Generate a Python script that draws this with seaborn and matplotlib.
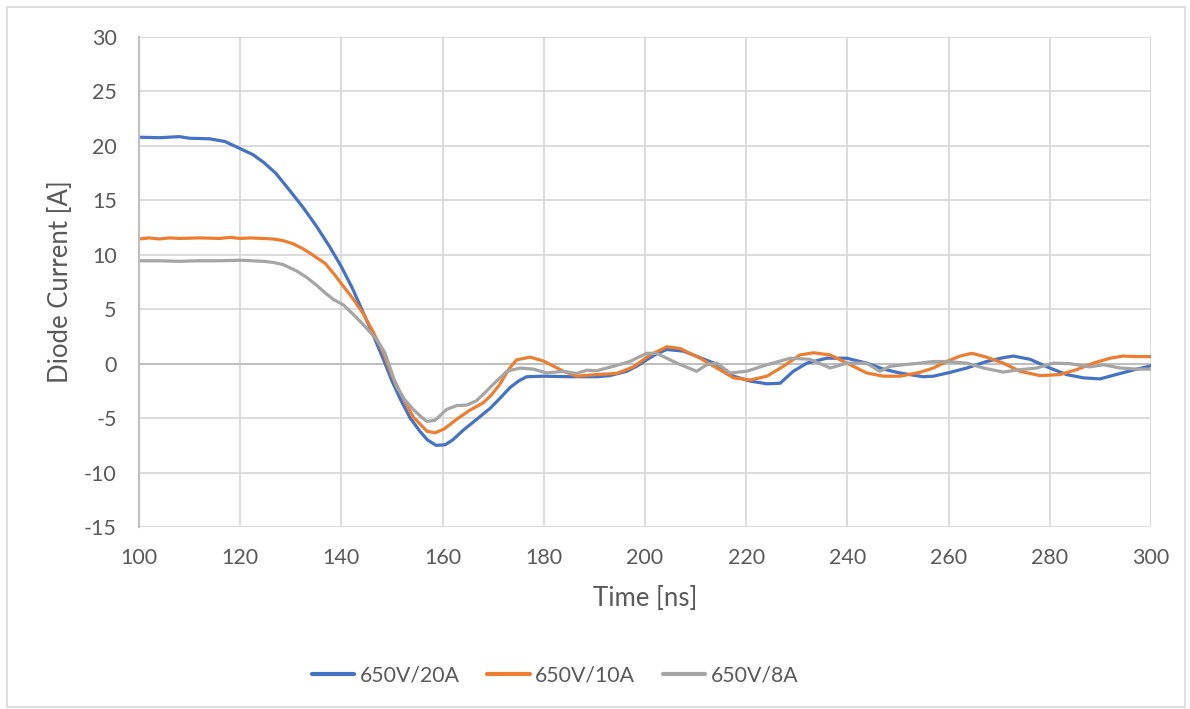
import pandas as pd
import numpy as np
import matplotlib.pyplot as plt
import seaborn as sns
from matplotlib.patches import Rectangle

# valeurs
t_20a = [100, 104, 108, 110, 114, 117, 120, 122.5, 124.6, 127, 129.8, 132.5, 135.1, 137.6, 140,
         142.2, 144.3, 146.3, 148.3, 150, 151.8, 153.6, 155.5, 157, 158.7, 160.5, 162, 164.1,
         166.5, 169.4, 171.5, 173.3, 175, 176.6, 180, 185, 190.4, 193, 196.4, 198.5, 200.3,
         202.3, 204.3, 207.6, 210.9, 214.2, 217.5, 220.8, 224.1, 226.7, 229.3, 232, 235.9,
         239.9, 243.8, 247.1, 250.4, 255, 257, 260.3, 263.6, 267.5, 270.8, 272.8, 276.1, 280,
         283.3, 286.6, 289.9, 293.9, 297.2, 300]
i_20a = [20.8, 20.75, 20.85, 20.7, 20.65, 20.4, 19.75, 19.2, 18.5, 17.5, 15.9, 14.3, 12.6, 10.8, 8.9,
         6.9, 4.7, 2.6, 0.4, -1.6, -3.4, -5.0, -6.2, -7.0, -7.5, -7.45, -7.0, -6.1,
         -5.2, -4.1, -3.1, -2.2, -1.6, -1.2, -1.15, -1.2, -1.2, -1.1, -0.7, -0.2, 0.35,
         0.9, 1.3, 1.15, 0.55, -0.05, -1.15, -1.6, -1.85, -1.8, -0.7, 0.05, 0.5,
         0.5, 0.05, -0.5, -0.86, -1.2, -1.15, -0.8, -0.4, 0.2, 0.55, 0.7, 0.4, -0.4,
         -1.0, -1.3, -1.4, -0.9, -0.5, -0.2]

t_10a = [100, 102, 104, 106, 108, 112, 116, 118, 120, 122, 126.5, 128.5, 130.5, 132.2, 133.8,
         136.8, 138.6, 140.4, 142.4, 144.3, 146.3, 148.3, 150, 151.8, 154.2, 156.9, 158.5,
         160.3, 162.8, 165.3, 168, 169.6, 171.3, 173.1, 174.6, 177.3, 179.9, 183.9, 186.5,
         190.4, 194.4, 197.7, 201, 204.3, 206.9, 210.9, 214.2, 217.5, 220.8, 224.1, 227.3,
         230.6, 233.3, 236.6, 239.9, 243.8, 247.1, 250.4, 254.3, 257, 259.6, 262.3, 264.6,
         267.5, 270.8, 274.1, 278.1, 282, 285.3, 288.6, 291.9, 294.5, 297, 300]
i_10a = [11.45, 11.55, 11.45, 11.55, 11.5, 11.55, 11.5, 11.6, 11.5, 11.55, 11.45, 11.3, 11.0, 10.6, 10.15,
         9.2, 8.2, 7.1, 5.9, 4.6, 2.9, 1.0, -1.1, -2.8, -4.9, -6.2, -6.35,
         -6.0, -5.1, -4.3, -3.6, -2.9, -1.9, -0.5, 0.35, 0.6, 0.25, -0.7, -1.15,
         -1.0, -0.9, -0.3, 0.8, 1.55, 1.4, 0.5, -0.4, -1.3, -1.5, -1.15, -0.25,
         0.8, 1.0, 0.8, 0.05, -0.85, -1.15, -1.15, -0.8, -0.4, 0.2, 0.7, 0.95,
         0.6, 0.05, -0.7, -1.1, -1.0, -0.55, 0.05, 0.5, 0.7, 0.65, 0.65]

t_8a = [100, 104, 108, 112, 116, 120, 124.6, 126.5, 128.5, 131.2, 133.2, 135.1, 136.8, 138.4,
        140.4, 142.4, 144.3, 147, 148.6, 150.9, 152.5, 154.2, 155.8, 156.9, 158.5, 160.8,
        162.8, 164.8, 166.7, 168.3, 170, 172.7, 175.3, 177.9, 180.6, 183.9, 186.5, 188.5,
        190.4, 193.7, 197, 200.3, 202.3, 206.3, 210.2, 212.2, 214.2, 216.8, 220.1, 224.1,
        228.7, 232.6, 236.6, 239.9, 243.8, 246.4, 248.4, 251, 254.3, 257, 259.6, 263.6,
        266.9, 270.8, 274.1, 277.4, 280.7, 284, 287.9, 290.6, 293.9, 297.2, 300]
i_8a = [9.45, 9.45, 9.4, 9.45, 9.45, 9.5, 9.4, 9.3, 9.1, 8.5, 7.9, 7.2, 6.5, 5.9,
        5.4, 4.5, 3.6, 2.2, 1.0, -2.1, -3.3, -4.2, -4.9, -5.3, -5.2, -4.2,
        -3.85, -3.8, -3.4, -2.7, -1.9, -0.7, -0.4, -0.5, -0.85, -0.7, -0.9, -0.6,
        -0.65, -0.25, 0.2, 0.95, 0.95, 0.05, -0.7, -0.1, 0.05, -0.85, -0.7, -0.1,
        0.5, 0.4, -0.4, 0.05, 0.05, -0.7, -0.25, -0.1, 0.05, 0.2, 0.2, 0.05,
        -0.4, -0.77, -0.55, -0.4, 0.05, 0.0, -0.3, -0.1, -0.4, -0.5, -0.5]

series = ['650V/20A', '650V/10A', '650V/8A']
couleurs = ['#4472C4', '#ED7D31', '#A5A5A5']
x_ticks = list(range(100, 301, 20))
y_ticks = list(range(-15, 31, 5))

# mise en forme longue pour seaborn
df = pd.concat([
    pd.DataFrame({'Time': t_20a, 'Current': i_20a, 'Serie': series[0]}),
    pd.DataFrame({'Time': t_10a, 'Current': i_10a, 'Serie': series[1]}),
    pd.DataFrame({'Time': t_8a, 'Current': i_8a, 'Serie': series[2]}),
], ignore_index=True)

sns.set_style('white')
plt.rcParams['font.family'] = ['Lato', 'DejaVu Sans']
plt.rcParams['axes.unicode_minus'] = False

fig = plt.figure(figsize=(11.9, 7.09), dpi=100)
ax = fig.add_axes([139 / 1190, 1 - 527 / 709, (1151 - 139) / 1190, (527 - 37) / 709])

sns.lineplot(data=df, x='Time', y='Current', hue='Serie', palette=couleurs,
             hue_order=series, linewidth=2.3, ax=ax, legend=False, sort=False)

ax.set_xlim(100, 300)
ax.set_ylim(-15, 30)
ax.set_xticks(x_ticks)
ax.set_yticks(y_ticks)
ax.grid(True, color='#d9d9d9', linewidth=1.3)
ax.set_axisbelow(True)
ax.axhline(0, color='#bfbfbf', linewidth=1.5, zorder=1)
for s in ['top', 'right', 'bottom']:
    ax.spines[s].set_visible(False)
ax.spines['left'].set_color('#bfbfbf')
ax.spines['left'].set_linewidth(1.5)
ax.tick_params(axis='both', length=0, labelsize=15.5, labelcolor='#595959')
ax.tick_params(axis='y', pad=16)
ax.tick_params(axis='x', pad=15)
ax.set_xlabel('Time [ns]', fontsize=18.5, color='#595959', labelpad=13)
ax.set_ylabel('Diode Current [A]', fontsize=18.5, color='#595959', labelpad=8)

# légende en bas
handles = [plt.Line2D([], [], color=c, linewidth=3) for c in couleurs]
fig.legend(handles, series, loc='center', bbox_to_anchor=(555 / 1190, 1 - 675 / 709), ncol=3,
           frameon=False, fontsize=15.3, labelcolor='#595959', handlelength=2.0,
           handletextpad=0.25, columnspacing=1.3)

# cadre du graphique
fig.patches.append(Rectangle((7 / 1190, 2 / 709), 1178 / 1190, 700 / 709, transform=fig.transFigure,
                             fill=False, edgecolor='#d9d9d9', linewidth=1.2))

fig.savefig('out.png', dpi=100)
